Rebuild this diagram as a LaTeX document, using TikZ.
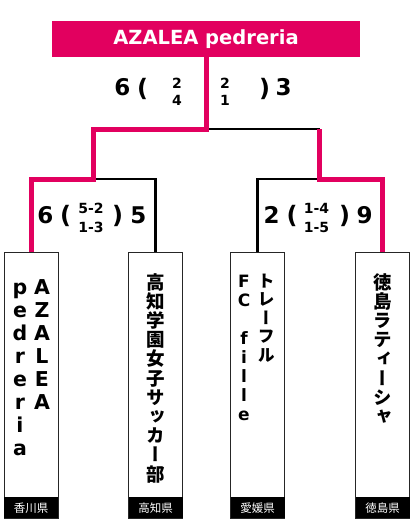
\documentclass[tikz,border=0pt]{standalone}
\usepackage{fontspec}
\setmainfont{DejaVu Sans}
\newfontfamily\widefont{DejaVu Sans}
\newfontfamily\jpfont[RawFeature=+vert]{Noto Sans CJK JP}
\newfontfamily\jplabel{Noto Sans CJK JP}
\usetikzlibrary{positioning}
\definecolor{azaleapink}{HTML}{E2005F}

\begin{document}
\begin{tikzpicture}[
    x=1pt,y=-1pt,
    winline/.style={draw=azaleapink,line width=5pt},
    loseline/.style={draw=black,line width=2.6pt},
    champion/.style={fill=azaleapink,minimum width=308pt,minimum height=36pt,inner sep=0pt,
      text=white,font=\widefont\bfseries\fontsize{19.5}{22}\selectfont},
    teambox/.style={draw=black!85,line width=0.9pt,fill=white,
      minimum width=54pt,minimum height=266pt,inner sep=0pt},
    prefbox/.style={fill=black,text=white,minimum width=54pt,minimum height=21pt,inner sep=0pt,
      font=\jplabel\fontsize{11.5}{11.5}\selectfont},
    bigdigit/.style={anchor=base,inner sep=0pt,font=\widefont\bfseries\fontsize{23}{23}\selectfont},
    paren/.style={anchor=base,inner sep=0pt,font=\widefont\bfseries\fontsize{24}{24}\selectfont},
    setdigit/.style={anchor=base,inner sep=0pt,font=\widefont\bfseries\fontsize{14}{14}\selectfont},
    tatelatin/.style={anchor=base,inner sep=0pt,font=\widefont\bfseries\fontsize{#1}{#1}\selectfont},
    tatejp/.style={anchor=base,inner sep=0pt,font=\jpfont\bfseries\fontsize{#1}{#1}\selectfont}
  ]
  \useasboundingbox (0,0) rectangle (418,522);

  % champion banner
  \node[champion] (champ) at (206,39) {AZALEA pedreria};

  % team boxes and prefectures
  \node[teambox] (azalea) at (31,385) {};
  \node[teambox] (kochi) at (155.5,385) {};
  \node[teambox] (trefle) at (257.5,385) {};
  \node[teambox] (tokushima) at (382.5,385) {};
  \node[prefbox,anchor=south] (kagawa) at (azalea.south) {香川県};
  \node[prefbox,anchor=south] (kochipref) at (kochi.south) {高知県};
  \node[prefbox,anchor=south] (ehime) at (trefle.south) {愛媛県};
  \node[prefbox,anchor=south] (tokushimapref) at (tokushima.south) {徳島県};

  % bracket
  \coordinate (final) at (206,129);
  \coordinate (semiL) at (93,179);
  \coordinate (semiR) at (319,179);
  \draw[loseline] (final) -| (semiR);
  \draw[loseline] (semiL) -| (kochi.north);
  \draw[loseline] (semiR) -| (trefle.north);
  \draw[winline] (champ.south) -- (final) -| (semiL) -| (azalea.north);
  \draw[winline] (semiR |- final) -- (semiR) -| (tokushima.north);

  % final score
  \node[bigdigit] (final-a) at (122.5,95) {6};
  \node[paren] (final-open) at (142.5,96) {(};
  \node[setdigit] (final-a1) at (177,88) {2};
  \node[setdigit] (final-a2) at (177,105) {4};
  \node[setdigit] (final-b1) at (225,88) {2};
  \node[setdigit] (final-b2) at (225,105) {1};
  \node[paren] (final-close) at (264.5,96) {)};
  \node[bigdigit] (final-b) at (283.5,95) {3};

  % semi-final scores
  \node[bigdigit] (semiL-a) at (45.5,223) {6};
  \node[paren] (semiL-open) at (65.5,223) {(};
  \node[setdigit] (semiL-1) at (91,213) {5-2};
  \node[setdigit] (semiL-2) at (91,232) {1-3};
  \node[paren] (semiL-close) at (117.5,223) {)};
  \node[bigdigit] (semiL-b) at (138.5,223) {5};

  \node[bigdigit] (semiR-a) at (271.5,223) {2};
  \node[paren] (semiR-open) at (292,223) {(};
  \node[setdigit] (semiR-1) at (316.5,213) {1-4};
  \node[setdigit] (semiR-2) at (316.5,232) {1-5};
  \node[paren] (semiR-close) at (344.5,223) {)};
  \node[bigdigit] (semiR-b) at (364.5,223) {9};

  % vertical team names
  \foreach \ch [count=\k from 0] in {A,Z,A,L,E,A}
    \node[tatelatin=20.5] (azalea-r\k) at (42,294+23*\k) {\ch};
  \foreach \ch [count=\k from 0] in {p,e,d,r,e,r,i,a}
    \node[tatelatin=20.5] (azalea-l\k) at (20,294+23*\k) {\ch};
  \foreach \ch [count=\k from 0] in {高,知,学,園,女,子,サ,ッ,カ,ー,部}
    \node[tatejp=18.5] (kochi-\k) at (155.5,289+19.2*\k) {\ch};
  \foreach \ch [count=\k from 0] in {ト,レ,ー,フ,ル}
    \node[tatejp=17] (trefle-r\k) at (266,287+18.5*\k) {\ch};
  \foreach \ch/\k in {F/0,C/1,f/3,i/4,l/5,l/6,e/7}
    \node[tatelatin=17] (trefle-l\k) at (244,287+19*\k) {\ch};
  \foreach \ch [count=\k from 0] in {徳,島,ラ,テ,ィ,ー,シ,ャ}
    \node[tatejp=18.5] (tokushima-\k) at (382.5,289+19.2*\k) {\ch};
\end{tikzpicture}
\end{document}
